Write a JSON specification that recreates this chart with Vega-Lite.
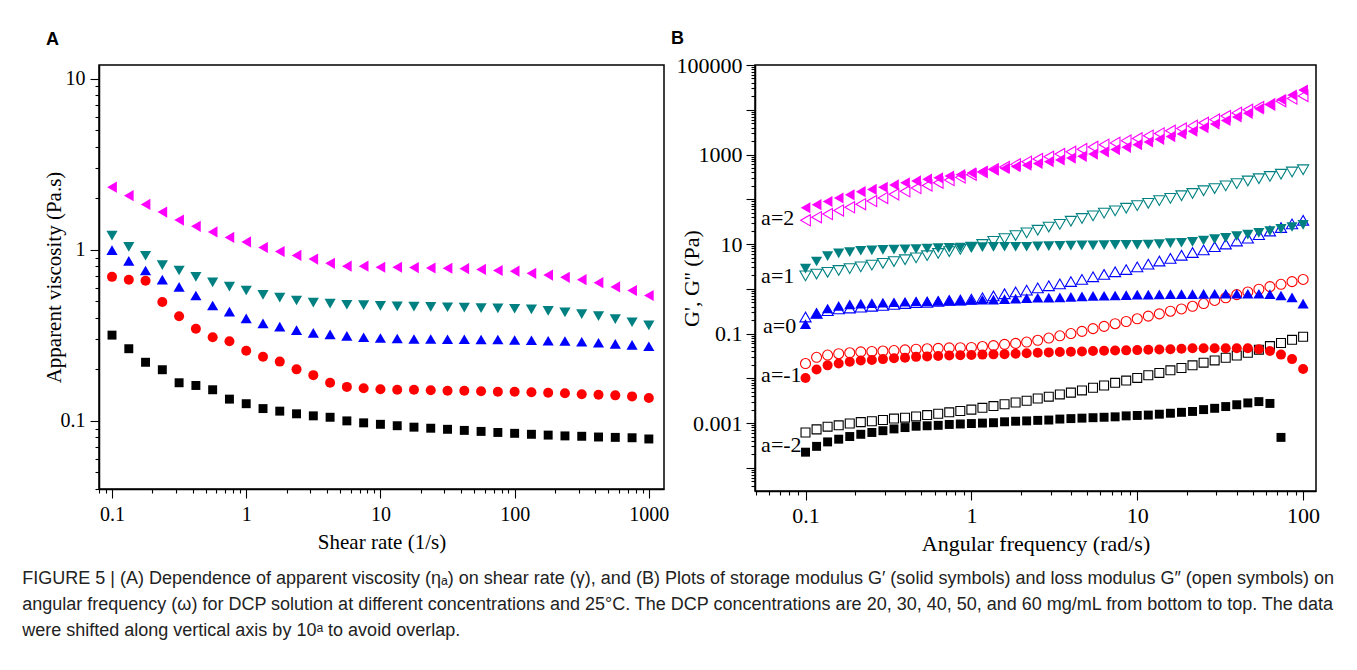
{
"$schema": "https://vega.github.io/schema/vega-lite/v6.json",
"background": "white",
"padding": {"left": 22, "top": 29, "right": 5, "bottom": 5},
"bounds": "flush",
"spacing": 91,
"title": {
  "text": ["FIGURE 5 | (A) Dependence of apparent viscosity (ηₐ) on shear rate (γ), and (B) Plots of storage modulus G′ (solid symbols) and loss modulus G″ (open symbols) on", "angular frequency (ω) for DCP solution at different concentrations and 25°C. The DCP concentrations are 20, 30, 40, 50, and 60 mg/mL from bottom to top. The data", "were shifted along vertical axis by 10ᵃ to avoid overlap."],
  "orient": "bottom", "anchor": "start", "frame": "bounds", "dx": -20, "offset": 15,
  "font": "Liberation Sans", "fontSize": 18, "fontWeight": "normal", "color": "#222", "lineHeight": 26, "baseline": "top"
},
"config": {
  "view": {"stroke": "#000", "strokeWidth": 1.5},
  "axis": {"domainColor": "#000", "domainWidth": 1.5, "tickColor": "#000", "tickWidth": 1.1, "labelColor": "#000", "titleColor": "#000", "labelFont": "Liberation Serif", "titleFont": "Liberation Serif", "titleFontWeight": "normal", "grid": false, "labelOverlap": false, "labelFlush": false, "labelBound": false}
},
"datasets": {
"A": [
{"x":0.1,"y":2.32,"c":"60"},{"x":0.1334,"y":2.07,"c":"60"},{"x":0.1778,"y":1.84,"c":"60"},{"x":0.2371,"y":1.66,"c":"60"},{"x":0.3162,"y":1.49,"c":"60"},{"x":0.4217,"y":1.37,"c":"60"},{"x":0.5623,"y":1.27,"c":"60"},{"x":0.7499,"y":1.18,"c":"60"},{"x":1,"y":1.11,"c":"60"},{"x":1.334,"y":1.03,"c":"60"},{"x":1.778,"y":0.976,"c":"60"},{"x":2.371,"y":0.926,"c":"60"},{"x":3.162,"y":0.882,"c":"60"},{"x":4.217,"y":0.833,"c":"60"},{"x":5.623,"y":0.801,"c":"60"},{"x":7.499,"y":0.801,"c":"60"},{"x":10,"y":0.79,"c":"60"},{"x":13.34,"y":0.79,"c":"60"},{"x":17.78,"y":0.786,"c":"60"},{"x":23.71,"y":0.782,"c":"60"},{"x":31.62,"y":0.779,"c":"60"},{"x":42.17,"y":0.775,"c":"60"},{"x":56.23,"y":0.767,"c":"60"},{"x":74.99,"y":0.756,"c":"60"},{"x":100,"y":0.749,"c":"60"},{"x":133.4,"y":0.728,"c":"60"},{"x":177.8,"y":0.711,"c":"60"},{"x":237.1,"y":0.69,"c":"60"},{"x":316.2,"y":0.668,"c":"60"},{"x":421.7,"y":0.642,"c":"60"},{"x":562.3,"y":0.606,"c":"60"},{"x":749.9,"y":0.578,"c":"60"},{"x":1000,"y":0.54,"c":"60"},
{"x":0.1,"y":1.21,"c":"50"},{"x":0.1334,"y":1.04,"c":"50"},{"x":0.1778,"y":0.922,"c":"50"},{"x":0.2371,"y":0.813,"c":"50"},{"x":0.3162,"y":0.756,"c":"50"},{"x":0.4217,"y":0.694,"c":"50"},{"x":0.5623,"y":0.645,"c":"50"},{"x":0.7499,"y":0.609,"c":"50"},{"x":1,"y":0.578,"c":"50"},{"x":1.334,"y":0.545,"c":"50"},{"x":1.778,"y":0.525,"c":"50"},{"x":2.371,"y":0.505,"c":"50"},{"x":3.162,"y":0.491,"c":"50"},{"x":4.217,"y":0.484,"c":"50"},{"x":5.623,"y":0.477,"c":"50"},{"x":7.499,"y":0.474,"c":"50"},{"x":10,"y":0.47,"c":"50"},{"x":13.34,"y":0.467,"c":"50"},{"x":17.78,"y":0.465,"c":"50"},{"x":23.71,"y":0.463,"c":"50"},{"x":31.62,"y":0.461,"c":"50"},{"x":42.17,"y":0.459,"c":"50"},{"x":56.23,"y":0.456,"c":"50"},{"x":74.99,"y":0.454,"c":"50"},{"x":100,"y":0.452,"c":"50"},{"x":133.4,"y":0.448,"c":"50"},{"x":177.8,"y":0.439,"c":"50"},{"x":237.1,"y":0.431,"c":"50"},{"x":316.2,"y":0.42,"c":"50"},{"x":421.7,"y":0.409,"c":"50"},{"x":562.3,"y":0.393,"c":"50"},{"x":749.9,"y":0.377,"c":"50"},{"x":1000,"y":0.361,"c":"50"},
{"x":0.1,"y":0.995,"c":"40"},{"x":0.1334,"y":0.861,"c":"40"},{"x":0.1778,"y":0.756,"c":"40"},{"x":0.2371,"y":0.668,"c":"40"},{"x":0.3162,"y":0.606,"c":"40"},{"x":0.4217,"y":0.54,"c":"40"},{"x":0.5623,"y":0.472,"c":"40"},{"x":0.7499,"y":0.435,"c":"40"},{"x":1,"y":0.397,"c":"40"},{"x":1.334,"y":0.371,"c":"40"},{"x":1.778,"y":0.355,"c":"40"},{"x":2.371,"y":0.339,"c":"40"},{"x":3.162,"y":0.327,"c":"40"},{"x":4.217,"y":0.32,"c":"40"},{"x":5.623,"y":0.314,"c":"40"},{"x":7.499,"y":0.308,"c":"40"},{"x":10,"y":0.305,"c":"40"},{"x":13.34,"y":0.303,"c":"40"},{"x":17.78,"y":0.301,"c":"40"},{"x":23.71,"y":0.301,"c":"40"},{"x":31.62,"y":0.3,"c":"40"},{"x":42.17,"y":0.3,"c":"40"},{"x":56.23,"y":0.299,"c":"40"},{"x":74.99,"y":0.299,"c":"40"},{"x":100,"y":0.297,"c":"40"},{"x":133.4,"y":0.296,"c":"40"},{"x":177.8,"y":0.294,"c":"40"},{"x":237.1,"y":0.293,"c":"40"},{"x":316.2,"y":0.29,"c":"40"},{"x":421.7,"y":0.286,"c":"40"},{"x":562.3,"y":0.282,"c":"40"},{"x":749.9,"y":0.278,"c":"40"},{"x":1000,"y":0.273,"c":"40"},
{"x":0.1,"y":0.694,"c":"30"},{"x":0.1334,"y":0.668,"c":"30"},{"x":0.1778,"y":0.658,"c":"30"},{"x":0.2371,"y":0.495,"c":"30"},{"x":0.3162,"y":0.409,"c":"30"},{"x":0.4217,"y":0.345,"c":"30"},{"x":0.5623,"y":0.308,"c":"30"},{"x":0.7499,"y":0.292,"c":"30"},{"x":1,"y":0.257,"c":"30"},{"x":1.334,"y":0.237,"c":"30"},{"x":1.778,"y":0.222,"c":"30"},{"x":2.371,"y":0.2,"c":"30"},{"x":3.162,"y":0.185,"c":"30"},{"x":4.217,"y":0.167,"c":"30"},{"x":5.623,"y":0.158,"c":"30"},{"x":7.499,"y":0.155,"c":"30"},{"x":10,"y":0.153,"c":"30"},{"x":13.34,"y":0.152,"c":"30"},{"x":17.78,"y":0.152,"c":"30"},{"x":23.71,"y":0.151,"c":"30"},{"x":31.62,"y":0.15,"c":"30"},{"x":42.17,"y":0.15,"c":"30"},{"x":56.23,"y":0.149,"c":"30"},{"x":74.99,"y":0.148,"c":"30"},{"x":100,"y":0.148,"c":"30"},{"x":133.4,"y":0.147,"c":"30"},{"x":177.8,"y":0.146,"c":"30"},{"x":237.1,"y":0.145,"c":"30"},{"x":316.2,"y":0.143,"c":"30"},{"x":421.7,"y":0.142,"c":"30"},{"x":562.3,"y":0.141,"c":"30"},{"x":749.9,"y":0.139,"c":"30"},{"x":1000,"y":0.136,"c":"30"},
{"x":0.1,"y":0.317,"c":"20"},{"x":0.1334,"y":0.264,"c":"20"},{"x":0.1778,"y":0.22,"c":"20"},{"x":0.2371,"y":0.199,"c":"20"},{"x":0.3162,"y":0.167,"c":"20"},{"x":0.4217,"y":0.161,"c":"20"},{"x":0.5623,"y":0.152,"c":"20"},{"x":0.7499,"y":0.134,"c":"20"},{"x":1,"y":0.126,"c":"20"},{"x":1.334,"y":0.118,"c":"20"},{"x":1.778,"y":0.114,"c":"20"},{"x":2.371,"y":0.11,"c":"20"},{"x":3.162,"y":0.107,"c":"20"},{"x":4.217,"y":0.105,"c":"20"},{"x":5.623,"y":0.1,"c":"20"},{"x":7.499,"y":0.0974,"c":"20"},{"x":10,"y":0.0955,"c":"20"},{"x":13.34,"y":0.0937,"c":"20"},{"x":17.78,"y":0.0919,"c":"20"},{"x":23.71,"y":0.0906,"c":"20"},{"x":31.62,"y":0.0893,"c":"20"},{"x":42.17,"y":0.088,"c":"20"},{"x":56.23,"y":0.0868,"c":"20"},{"x":74.99,"y":0.0856,"c":"20"},{"x":100,"y":0.0846,"c":"20"},{"x":133.4,"y":0.0835,"c":"20"},{"x":177.8,"y":0.0826,"c":"20"},{"x":237.1,"y":0.0817,"c":"20"},{"x":316.2,"y":0.0813,"c":"20"},{"x":421.7,"y":0.0805,"c":"20"},{"x":562.3,"y":0.0801,"c":"20"},{"x":749.9,"y":0.0797,"c":"20"},{"x":1000,"y":0.0784,"c":"20"}
],
"B": [
{"w":0.1,"v":64.6,"c":"60","g":"s"},{"w":0.1166,"v":75.9,"c":"60","g":"s"},{"w":0.1359,"v":89.1,"c":"60","g":"s"},{"w":0.1585,"v":107,"c":"60","g":"s"},{"w":0.1848,"v":126,"c":"60","g":"s"},{"w":0.2154,"v":148,"c":"60","g":"s"},{"w":0.2512,"v":166,"c":"60","g":"s"},{"w":0.2929,"v":186,"c":"60","g":"s"},{"w":0.3415,"v":209,"c":"60","g":"s"},{"w":0.3981,"v":234,"c":"60","g":"s"},{"w":0.4642,"v":257,"c":"60","g":"s"},{"w":0.5412,"v":282,"c":"60","g":"s"},{"w":0.631,"v":302,"c":"60","g":"s"},{"w":0.7356,"v":331,"c":"60","g":"s"},{"w":0.8577,"v":355,"c":"60","g":"s"},{"w":1,"v":389,"c":"60","g":"s"},{"w":1.166,"v":417,"c":"60","g":"s"},{"w":1.359,"v":457,"c":"60","g":"s"},{"w":1.585,"v":490,"c":"60","g":"s"},{"w":1.848,"v":537,"c":"60","g":"s"},{"w":2.154,"v":575,"c":"60","g":"s"},{"w":2.512,"v":631,"c":"60","g":"s"},{"w":2.929,"v":692,"c":"60","g":"s"},{"w":3.415,"v":759,"c":"60","g":"s"},{"w":3.981,"v":832,"c":"60","g":"s"},{"w":4.642,"v":912,"c":"60","g":"s"},{"w":5.412,"v":1023,"c":"60","g":"s"},{"w":6.31,"v":1148,"c":"60","g":"s"},{"w":7.356,"v":1288,"c":"60","g":"s"},{"w":8.577,"v":1445,"c":"60","g":"s"},{"w":10,"v":1660,"c":"60","g":"s"},{"w":11.66,"v":1905,"c":"60","g":"s"},{"w":13.59,"v":2188,"c":"60","g":"s"},{"w":15.85,"v":2512,"c":"60","g":"s"},{"w":18.48,"v":2884,"c":"60","g":"s"},{"w":21.54,"v":3311,"c":"60","g":"s"},{"w":25.12,"v":3981,"c":"60","g":"s"},{"w":29.29,"v":4786,"c":"60","g":"s"},{"w":34.15,"v":5754,"c":"60","g":"s"},{"w":39.81,"v":6918,"c":"60","g":"s"},{"w":46.42,"v":8318,"c":"60","g":"s"},{"w":54.12,"v":10470,"c":"60","g":"s"},{"w":63.1,"v":13180,"c":"60","g":"s"},{"w":73.56,"v":16980,"c":"60","g":"s"},{"w":85.77,"v":21380,"c":"60","g":"s"},{"w":100,"v":27540,"c":"60","g":"s"},
{"w":0.1,"v":33.9,"c":"60","g":"o"},{"w":0.1166,"v":39.8,"c":"60","g":"o"},{"w":0.1359,"v":46.8,"c":"60","g":"o"},{"w":0.1585,"v":56.2,"c":"60","g":"o"},{"w":0.1848,"v":66.1,"c":"60","g":"o"},{"w":0.2154,"v":77.6,"c":"60","g":"o"},{"w":0.2512,"v":91.2,"c":"60","g":"o"},{"w":0.2929,"v":107,"c":"60","g":"o"},{"w":0.3415,"v":129,"c":"60","g":"o"},{"w":0.3981,"v":151,"c":"60","g":"o"},{"w":0.4642,"v":178,"c":"60","g":"o"},{"w":0.5412,"v":204,"c":"60","g":"o"},{"w":0.631,"v":234,"c":"60","g":"o"},{"w":0.7356,"v":269,"c":"60","g":"o"},{"w":0.8577,"v":309,"c":"60","g":"o"},{"w":1,"v":355,"c":"60","g":"o"},{"w":1.166,"v":407,"c":"60","g":"o"},{"w":1.359,"v":468,"c":"60","g":"o"},{"w":1.585,"v":525,"c":"60","g":"o"},{"w":1.848,"v":603,"c":"60","g":"o"},{"w":2.154,"v":692,"c":"60","g":"o"},{"w":2.512,"v":794,"c":"60","g":"o"},{"w":2.929,"v":891,"c":"60","g":"o"},{"w":3.415,"v":1023,"c":"60","g":"o"},{"w":3.981,"v":1148,"c":"60","g":"o"},{"w":4.642,"v":1318,"c":"60","g":"o"},{"w":5.412,"v":1479,"c":"60","g":"o"},{"w":6.31,"v":1660,"c":"60","g":"o"},{"w":7.356,"v":1820,"c":"60","g":"o"},{"w":8.577,"v":2042,"c":"60","g":"o"},{"w":10,"v":2291,"c":"60","g":"o"},{"w":11.66,"v":2630,"c":"60","g":"o"},{"w":13.59,"v":2951,"c":"60","g":"o"},{"w":15.85,"v":3388,"c":"60","g":"o"},{"w":18.48,"v":3802,"c":"60","g":"o"},{"w":21.54,"v":4365,"c":"60","g":"o"},{"w":25.12,"v":5129,"c":"60","g":"o"},{"w":29.29,"v":6026,"c":"60","g":"o"},{"w":34.15,"v":7244,"c":"60","g":"o"},{"w":39.81,"v":8511,"c":"60","g":"o"},{"w":46.42,"v":10000,"c":"60","g":"o"},{"w":54.12,"v":11480,"c":"60","g":"o"},{"w":63.1,"v":13180,"c":"60","g":"o"},{"w":73.56,"v":15490,"c":"60","g":"o"},{"w":85.77,"v":17780,"c":"60","g":"o"},{"w":100,"v":20420,"c":"60","g":"o"},
{"w":0.1,"v":2.82,"c":"50","g":"s"},{"w":0.1166,"v":4.07,"c":"50","g":"s"},{"w":0.1359,"v":5.37,"c":"50","g":"s"},{"w":0.1585,"v":6.17,"c":"50","g":"s"},{"w":0.1848,"v":6.61,"c":"50","g":"s"},{"w":0.2154,"v":7.08,"c":"50","g":"s"},{"w":0.2512,"v":7.24,"c":"50","g":"s"},{"w":0.2929,"v":7.41,"c":"50","g":"s"},{"w":0.3415,"v":7.5,"c":"50","g":"s"},{"w":0.3981,"v":7.59,"c":"50","g":"s"},{"w":0.4642,"v":7.76,"c":"50","g":"s"},{"w":0.5412,"v":7.94,"c":"50","g":"s"},{"w":0.631,"v":8.13,"c":"50","g":"s"},{"w":0.7356,"v":8.22,"c":"50","g":"s"},{"w":0.8577,"v":8.32,"c":"50","g":"s"},{"w":1,"v":8.51,"c":"50","g":"s"},{"w":1.166,"v":8.51,"c":"50","g":"s"},{"w":1.359,"v":8.61,"c":"50","g":"s"},{"w":1.585,"v":8.71,"c":"50","g":"s"},{"w":1.848,"v":8.71,"c":"50","g":"s"},{"w":2.154,"v":8.71,"c":"50","g":"s"},{"w":2.512,"v":8.91,"c":"50","g":"s"},{"w":2.929,"v":9.02,"c":"50","g":"s"},{"w":3.415,"v":9.12,"c":"50","g":"s"},{"w":3.981,"v":9.23,"c":"50","g":"s"},{"w":4.642,"v":9.33,"c":"50","g":"s"},{"w":5.412,"v":9.33,"c":"50","g":"s"},{"w":6.31,"v":9.44,"c":"50","g":"s"},{"w":7.356,"v":9.55,"c":"50","g":"s"},{"w":8.577,"v":9.55,"c":"50","g":"s"},{"w":10,"v":9.55,"c":"50","g":"s"},{"w":11.66,"v":9.77,"c":"50","g":"s"},{"w":13.59,"v":10,"c":"50","g":"s"},{"w":15.85,"v":10.5,"c":"50","g":"s"},{"w":18.48,"v":10.7,"c":"50","g":"s"},{"w":21.54,"v":11.2,"c":"50","g":"s"},{"w":25.12,"v":12,"c":"50","g":"s"},{"w":29.29,"v":12.9,"c":"50","g":"s"},{"w":34.15,"v":13.8,"c":"50","g":"s"},{"w":39.81,"v":15.1,"c":"50","g":"s"},{"w":46.42,"v":16.2,"c":"50","g":"s"},{"w":54.12,"v":17.8,"c":"50","g":"s"},{"w":63.1,"v":19.5,"c":"50","g":"s"},{"w":73.56,"v":21.9,"c":"50","g":"s"},{"w":85.77,"v":24,"c":"50","g":"s"},{"w":100,"v":26.9,"c":"50","g":"s"},
{"w":0.1,"v":1.95,"c":"50","g":"o"},{"w":0.1166,"v":2.14,"c":"50","g":"o"},{"w":0.1359,"v":2.34,"c":"50","g":"o"},{"w":0.1585,"v":2.57,"c":"50","g":"o"},{"w":0.1848,"v":2.82,"c":"50","g":"o"},{"w":0.2154,"v":3.09,"c":"50","g":"o"},{"w":0.2512,"v":3.39,"c":"50","g":"o"},{"w":0.2929,"v":3.72,"c":"50","g":"o"},{"w":0.3415,"v":4.07,"c":"50","g":"o"},{"w":0.3981,"v":4.47,"c":"50","g":"o"},{"w":0.4642,"v":4.9,"c":"50","g":"o"},{"w":0.5412,"v":5.5,"c":"50","g":"o"},{"w":0.631,"v":6.17,"c":"50","g":"o"},{"w":0.7356,"v":6.76,"c":"50","g":"o"},{"w":0.8577,"v":7.59,"c":"50","g":"o"},{"w":1,"v":8.51,"c":"50","g":"o"},{"w":1.166,"v":9.77,"c":"50","g":"o"},{"w":1.359,"v":11.5,"c":"50","g":"o"},{"w":1.585,"v":13.2,"c":"50","g":"o"},{"w":1.848,"v":15.5,"c":"50","g":"o"},{"w":2.154,"v":17.8,"c":"50","g":"o"},{"w":2.512,"v":20.4,"c":"50","g":"o"},{"w":2.929,"v":24,"c":"50","g":"o"},{"w":3.415,"v":27.5,"c":"50","g":"o"},{"w":3.981,"v":32.4,"c":"50","g":"o"},{"w":4.642,"v":37.2,"c":"50","g":"o"},{"w":5.412,"v":42.7,"c":"50","g":"o"},{"w":6.31,"v":49,"c":"50","g":"o"},{"w":7.356,"v":55,"c":"50","g":"o"},{"w":8.577,"v":63.1,"c":"50","g":"o"},{"w":10,"v":72.4,"c":"50","g":"o"},{"w":11.66,"v":81.3,"c":"50","g":"o"},{"w":13.59,"v":93.3,"c":"50","g":"o"},{"w":15.85,"v":105,"c":"50","g":"o"},{"w":18.48,"v":120,"c":"50","g":"o"},{"w":21.54,"v":135,"c":"50","g":"o"},{"w":25.12,"v":155,"c":"50","g":"o"},{"w":29.29,"v":174,"c":"50","g":"o"},{"w":34.15,"v":200,"c":"50","g":"o"},{"w":39.81,"v":224,"c":"50","g":"o"},{"w":46.42,"v":257,"c":"50","g":"o"},{"w":54.12,"v":288,"c":"50","g":"o"},{"w":63.1,"v":324,"c":"50","g":"o"},{"w":73.56,"v":363,"c":"50","g":"o"},{"w":85.77,"v":407,"c":"50","g":"o"},{"w":100,"v":457,"c":"50","g":"o"},
{"w":0.1,"v":0.162,"c":"40","g":"s"},{"w":0.1166,"v":0.282,"c":"40","g":"s"},{"w":0.1359,"v":0.363,"c":"40","g":"s"},{"w":0.1585,"v":0.417,"c":"40","g":"s"},{"w":0.1848,"v":0.447,"c":"40","g":"s"},{"w":0.2154,"v":0.468,"c":"40","g":"s"},{"w":0.2512,"v":0.479,"c":"40","g":"s"},{"w":0.2929,"v":0.49,"c":"40","g":"s"},{"w":0.3415,"v":0.501,"c":"40","g":"s"},{"w":0.3981,"v":0.513,"c":"40","g":"s"},{"w":0.4642,"v":0.525,"c":"40","g":"s"},{"w":0.5412,"v":0.531,"c":"40","g":"s"},{"w":0.631,"v":0.537,"c":"40","g":"s"},{"w":0.7356,"v":0.543,"c":"40","g":"s"},{"w":0.8577,"v":0.55,"c":"40","g":"s"},{"w":1,"v":0.562,"c":"40","g":"s"},{"w":1.166,"v":0.569,"c":"40","g":"s"},{"w":1.359,"v":0.575,"c":"40","g":"s"},{"w":1.585,"v":0.589,"c":"40","g":"s"},{"w":1.848,"v":0.603,"c":"40","g":"s"},{"w":2.154,"v":0.617,"c":"40","g":"s"},{"w":2.512,"v":0.631,"c":"40","g":"s"},{"w":2.929,"v":0.638,"c":"40","g":"s"},{"w":3.415,"v":0.646,"c":"40","g":"s"},{"w":3.981,"v":0.661,"c":"40","g":"s"},{"w":4.642,"v":0.676,"c":"40","g":"s"},{"w":5.412,"v":0.692,"c":"40","g":"s"},{"w":6.31,"v":0.7,"c":"40","g":"s"},{"w":7.356,"v":0.708,"c":"40","g":"s"},{"w":8.577,"v":0.724,"c":"40","g":"s"},{"w":10,"v":0.741,"c":"40","g":"s"},{"w":11.66,"v":0.741,"c":"40","g":"s"},{"w":13.59,"v":0.75,"c":"40","g":"s"},{"w":15.85,"v":0.759,"c":"40","g":"s"},{"w":18.48,"v":0.759,"c":"40","g":"s"},{"w":21.54,"v":0.759,"c":"40","g":"s"},{"w":25.12,"v":0.767,"c":"40","g":"s"},{"w":29.29,"v":0.776,"c":"40","g":"s"},{"w":34.15,"v":0.776,"c":"40","g":"s"},{"w":39.81,"v":0.776,"c":"40","g":"s"},{"w":46.42,"v":0.776,"c":"40","g":"s"},{"w":54.12,"v":0.776,"c":"40","g":"s"},{"w":63.1,"v":0.759,"c":"40","g":"s"},{"w":73.56,"v":0.708,"c":"40","g":"s"},{"w":85.77,"v":0.646,"c":"40","g":"s"},{"w":100,"v":0.468,"c":"40","g":"s"},
{"w":0.1,"v":0.234,"c":"40","g":"o"},{"w":0.1166,"v":0.282,"c":"40","g":"o"},{"w":0.1359,"v":0.324,"c":"40","g":"o"},{"w":0.1585,"v":0.355,"c":"40","g":"o"},{"w":0.1848,"v":0.372,"c":"40","g":"o"},{"w":0.2154,"v":0.389,"c":"40","g":"o"},{"w":0.2512,"v":0.407,"c":"40","g":"o"},{"w":0.2929,"v":0.427,"c":"40","g":"o"},{"w":0.3415,"v":0.447,"c":"40","g":"o"},{"w":0.3981,"v":0.468,"c":"40","g":"o"},{"w":0.4642,"v":0.49,"c":"40","g":"o"},{"w":0.5412,"v":0.501,"c":"40","g":"o"},{"w":0.631,"v":0.525,"c":"40","g":"o"},{"w":0.7356,"v":0.55,"c":"40","g":"o"},{"w":0.8577,"v":0.562,"c":"40","g":"o"},{"w":1,"v":0.589,"c":"40","g":"o"},{"w":1.166,"v":0.631,"c":"40","g":"o"},{"w":1.359,"v":0.692,"c":"40","g":"o"},{"w":1.585,"v":0.776,"c":"40","g":"o"},{"w":1.848,"v":0.851,"c":"40","g":"o"},{"w":2.154,"v":0.933,"c":"40","g":"o"},{"w":2.512,"v":1.05,"c":"40","g":"o"},{"w":2.929,"v":1.17,"c":"40","g":"o"},{"w":3.415,"v":1.29,"c":"40","g":"o"},{"w":3.981,"v":1.45,"c":"40","g":"o"},{"w":4.642,"v":1.62,"c":"40","g":"o"},{"w":5.412,"v":1.86,"c":"40","g":"o"},{"w":6.31,"v":2.09,"c":"40","g":"o"},{"w":7.356,"v":2.4,"c":"40","g":"o"},{"w":8.577,"v":2.69,"c":"40","g":"o"},{"w":10,"v":3.09,"c":"40","g":"o"},{"w":11.66,"v":3.55,"c":"40","g":"o"},{"w":13.59,"v":4.17,"c":"40","g":"o"},{"w":15.85,"v":4.79,"c":"40","g":"o"},{"w":18.48,"v":5.62,"c":"40","g":"o"},{"w":21.54,"v":6.46,"c":"40","g":"o"},{"w":25.12,"v":7.41,"c":"40","g":"o"},{"w":29.29,"v":8.71,"c":"40","g":"o"},{"w":34.15,"v":10,"c":"40","g":"o"},{"w":39.81,"v":11.7,"c":"40","g":"o"},{"w":46.42,"v":13.5,"c":"40","g":"o"},{"w":54.12,"v":16.2,"c":"40","g":"o"},{"w":63.1,"v":19.5,"c":"40","g":"o"},{"w":73.56,"v":23.4,"c":"40","g":"o"},{"w":85.77,"v":28.2,"c":"40","g":"o"},{"w":100,"v":33.9,"c":"40","g":"o"},
{"w":0.1,"v":0.0102,"c":"30","g":"s"},{"w":0.1166,"v":0.0158,"c":"30","g":"s"},{"w":0.1359,"v":0.0195,"c":"30","g":"s"},{"w":0.1585,"v":0.0214,"c":"30","g":"s"},{"w":0.1848,"v":0.0234,"c":"30","g":"s"},{"w":0.2154,"v":0.0251,"c":"30","g":"s"},{"w":0.2512,"v":0.0257,"c":"30","g":"s"},{"w":0.2929,"v":0.0269,"c":"30","g":"s"},{"w":0.3415,"v":0.0282,"c":"30","g":"s"},{"w":0.3981,"v":0.0288,"c":"30","g":"s"},{"w":0.4642,"v":0.0302,"c":"30","g":"s"},{"w":0.5412,"v":0.0309,"c":"30","g":"s"},{"w":0.631,"v":0.0316,"c":"30","g":"s"},{"w":0.7356,"v":0.0324,"c":"30","g":"s"},{"w":0.8577,"v":0.0327,"c":"30","g":"s"},{"w":1,"v":0.0331,"c":"30","g":"s"},{"w":1.166,"v":0.0339,"c":"30","g":"s"},{"w":1.359,"v":0.0343,"c":"30","g":"s"},{"w":1.585,"v":0.0347,"c":"30","g":"s"},{"w":1.848,"v":0.0355,"c":"30","g":"s"},{"w":2.154,"v":0.0363,"c":"30","g":"s"},{"w":2.512,"v":0.0372,"c":"30","g":"s"},{"w":2.929,"v":0.038,"c":"30","g":"s"},{"w":3.415,"v":0.0389,"c":"30","g":"s"},{"w":3.981,"v":0.0394,"c":"30","g":"s"},{"w":4.642,"v":0.0398,"c":"30","g":"s"},{"w":5.412,"v":0.0407,"c":"30","g":"s"},{"w":6.31,"v":0.0412,"c":"30","g":"s"},{"w":7.356,"v":0.0417,"c":"30","g":"s"},{"w":8.577,"v":0.0422,"c":"30","g":"s"},{"w":10,"v":0.0427,"c":"30","g":"s"},{"w":11.66,"v":0.0437,"c":"30","g":"s"},{"w":13.59,"v":0.0442,"c":"30","g":"s"},{"w":15.85,"v":0.0447,"c":"30","g":"s"},{"w":18.48,"v":0.0457,"c":"30","g":"s"},{"w":21.54,"v":0.0468,"c":"30","g":"s"},{"w":25.12,"v":0.0468,"c":"30","g":"s"},{"w":29.29,"v":0.0468,"c":"30","g":"s"},{"w":34.15,"v":0.0468,"c":"30","g":"s"},{"w":39.81,"v":0.0468,"c":"30","g":"s"},{"w":46.42,"v":0.0468,"c":"30","g":"s"},{"w":54.12,"v":0.0447,"c":"30","g":"s"},{"w":63.1,"v":0.0407,"c":"30","g":"s"},{"w":73.56,"v":0.0339,"c":"30","g":"s"},{"w":85.77,"v":0.0269,"c":"30","g":"s"},{"w":100,"v":0.0162,"c":"30","g":"s"},
{"w":0.1,"v":0.0214,"c":"30","g":"o"},{"w":0.1166,"v":0.0295,"c":"30","g":"o"},{"w":0.1359,"v":0.0331,"c":"30","g":"o"},{"w":0.1585,"v":0.0355,"c":"30","g":"o"},{"w":0.1848,"v":0.0372,"c":"30","g":"o"},{"w":0.2154,"v":0.0389,"c":"30","g":"o"},{"w":0.2512,"v":0.0398,"c":"30","g":"o"},{"w":0.2929,"v":0.0407,"c":"30","g":"o"},{"w":0.3415,"v":0.0417,"c":"30","g":"o"},{"w":0.3981,"v":0.0432,"c":"30","g":"o"},{"w":0.4642,"v":0.0447,"c":"30","g":"o"},{"w":0.5412,"v":0.0457,"c":"30","g":"o"},{"w":0.631,"v":0.0468,"c":"30","g":"o"},{"w":0.7356,"v":0.0479,"c":"30","g":"o"},{"w":0.8577,"v":0.0484,"c":"30","g":"o"},{"w":1,"v":0.049,"c":"30","g":"o"},{"w":1.166,"v":0.0513,"c":"30","g":"o"},{"w":1.359,"v":0.0537,"c":"30","g":"o"},{"w":1.585,"v":0.0575,"c":"30","g":"o"},{"w":1.848,"v":0.0603,"c":"30","g":"o"},{"w":2.154,"v":0.0646,"c":"30","g":"o"},{"w":2.512,"v":0.0708,"c":"30","g":"o"},{"w":2.929,"v":0.0794,"c":"30","g":"o"},{"w":3.415,"v":0.0891,"c":"30","g":"o"},{"w":3.981,"v":0.1,"c":"30","g":"o"},{"w":4.642,"v":0.112,"c":"30","g":"o"},{"w":5.412,"v":0.129,"c":"30","g":"o"},{"w":6.31,"v":0.145,"c":"30","g":"o"},{"w":7.356,"v":0.166,"c":"30","g":"o"},{"w":8.577,"v":0.186,"c":"30","g":"o"},{"w":10,"v":0.214,"c":"30","g":"o"},{"w":11.66,"v":0.245,"c":"30","g":"o"},{"w":13.59,"v":0.275,"c":"30","g":"o"},{"w":15.85,"v":0.316,"c":"30","g":"o"},{"w":18.48,"v":0.355,"c":"30","g":"o"},{"w":21.54,"v":0.407,"c":"30","g":"o"},{"w":25.12,"v":0.468,"c":"30","g":"o"},{"w":29.29,"v":0.55,"c":"30","g":"o"},{"w":34.15,"v":0.631,"c":"30","g":"o"},{"w":39.81,"v":0.741,"c":"30","g":"o"},{"w":46.42,"v":0.851,"c":"30","g":"o"},{"w":54.12,"v":0.977,"c":"30","g":"o"},{"w":63.1,"v":1.12,"c":"30","g":"o"},{"w":73.56,"v":1.26,"c":"30","g":"o"},{"w":85.77,"v":1.45,"c":"30","g":"o"},{"w":100,"v":1.62,"c":"30","g":"o"},
{"w":0.1,"v":0.000224,"c":"20","g":"s"},{"w":0.1166,"v":0.000302,"c":"20","g":"s"},{"w":0.1359,"v":0.00038,"c":"20","g":"s"},{"w":0.1585,"v":0.000437,"c":"20","g":"s"},{"w":0.1848,"v":0.000501,"c":"20","g":"s"},{"w":0.2154,"v":0.000562,"c":"20","g":"s"},{"w":0.2512,"v":0.000617,"c":"20","g":"s"},{"w":0.2929,"v":0.000676,"c":"20","g":"s"},{"w":0.3415,"v":0.000741,"c":"20","g":"s"},{"w":0.3981,"v":0.000794,"c":"20","g":"s"},{"w":0.4642,"v":0.000851,"c":"20","g":"s"},{"w":0.5412,"v":0.000871,"c":"20","g":"s"},{"w":0.631,"v":0.000891,"c":"20","g":"s"},{"w":0.7356,"v":0.000933,"c":"20","g":"s"},{"w":0.8577,"v":0.000955,"c":"20","g":"s"},{"w":1,"v":0.000977,"c":"20","g":"s"},{"w":1.166,"v":0.001,"c":"20","g":"s"},{"w":1.359,"v":0.00102,"c":"20","g":"s"},{"w":1.585,"v":0.00107,"c":"20","g":"s"},{"w":1.848,"v":0.0011,"c":"20","g":"s"},{"w":2.154,"v":0.00112,"c":"20","g":"s"},{"w":2.512,"v":0.00115,"c":"20","g":"s"},{"w":2.929,"v":0.00117,"c":"20","g":"s"},{"w":3.415,"v":0.00123,"c":"20","g":"s"},{"w":3.981,"v":0.00126,"c":"20","g":"s"},{"w":4.642,"v":0.00129,"c":"20","g":"s"},{"w":5.412,"v":0.00132,"c":"20","g":"s"},{"w":6.31,"v":0.00135,"c":"20","g":"s"},{"w":7.356,"v":0.00138,"c":"20","g":"s"},{"w":8.577,"v":0.00145,"c":"20","g":"s"},{"w":10,"v":0.00148,"c":"20","g":"s"},{"w":11.66,"v":0.00151,"c":"20","g":"s"},{"w":13.59,"v":0.00158,"c":"20","g":"s"},{"w":15.85,"v":0.00166,"c":"20","g":"s"},{"w":18.48,"v":0.00174,"c":"20","g":"s"},{"w":21.54,"v":0.00182,"c":"20","g":"s"},{"w":25.12,"v":0.002,"c":"20","g":"s"},{"w":29.29,"v":0.00214,"c":"20","g":"s"},{"w":34.15,"v":0.00234,"c":"20","g":"s"},{"w":39.81,"v":0.00257,"c":"20","g":"s"},{"w":46.42,"v":0.00282,"c":"20","g":"s"},{"w":54.12,"v":0.00302,"c":"20","g":"s"},{"w":63.1,"v":0.00275,"c":"20","g":"s"},{"w":73.56,"v":0.000479,"c":"20","g":"s"},
{"w":0.1,"v":0.000617,"c":"20","g":"o"},{"w":0.1166,"v":0.000724,"c":"20","g":"o"},{"w":0.1359,"v":0.000832,"c":"20","g":"o"},{"w":0.1585,"v":0.000891,"c":"20","g":"o"},{"w":0.1848,"v":0.000977,"c":"20","g":"o"},{"w":0.2154,"v":0.00105,"c":"20","g":"o"},{"w":0.2512,"v":0.0011,"c":"20","g":"o"},{"w":0.2929,"v":0.00117,"c":"20","g":"o"},{"w":0.3415,"v":0.00126,"c":"20","g":"o"},{"w":0.3981,"v":0.00132,"c":"20","g":"o"},{"w":0.4642,"v":0.00141,"c":"20","g":"o"},{"w":0.5412,"v":0.00151,"c":"20","g":"o"},{"w":0.631,"v":0.00162,"c":"20","g":"o"},{"w":0.7356,"v":0.00174,"c":"20","g":"o"},{"w":0.8577,"v":0.00186,"c":"20","g":"o"},{"w":1,"v":0.002,"c":"20","g":"o"},{"w":1.166,"v":0.00219,"c":"20","g":"o"},{"w":1.359,"v":0.0024,"c":"20","g":"o"},{"w":1.585,"v":0.00263,"c":"20","g":"o"},{"w":1.848,"v":0.00288,"c":"20","g":"o"},{"w":2.154,"v":0.00316,"c":"20","g":"o"},{"w":2.512,"v":0.00355,"c":"20","g":"o"},{"w":2.929,"v":0.00389,"c":"20","g":"o"},{"w":3.415,"v":0.00437,"c":"20","g":"o"},{"w":3.981,"v":0.00479,"c":"20","g":"o"},{"w":4.642,"v":0.00537,"c":"20","g":"o"},{"w":5.412,"v":0.00617,"c":"20","g":"o"},{"w":6.31,"v":0.00692,"c":"20","g":"o"},{"w":7.356,"v":0.00794,"c":"20","g":"o"},{"w":8.577,"v":0.00891,"c":"20","g":"o"},{"w":10,"v":0.0102,"c":"20","g":"o"},{"w":11.66,"v":0.0117,"c":"20","g":"o"},{"w":13.59,"v":0.0132,"c":"20","g":"o"},{"w":15.85,"v":0.0151,"c":"20","g":"o"},{"w":18.48,"v":0.017,"c":"20","g":"o"},{"w":21.54,"v":0.0195,"c":"20","g":"o"},{"w":25.12,"v":0.0224,"c":"20","g":"o"},{"w":29.29,"v":0.0251,"c":"20","g":"o"},{"w":34.15,"v":0.0288,"c":"20","g":"o"},{"w":39.81,"v":0.0324,"c":"20","g":"o"},{"w":46.42,"v":0.0372,"c":"20","g":"o"},{"w":54.12,"v":0.0437,"c":"20","g":"o"},{"w":63.1,"v":0.0525,"c":"20","g":"o"},{"w":73.56,"v":0.0617,"c":"20","g":"o"},{"w":85.77,"v":0.0724,"c":"20","g":"o"},{"w":100,"v":0.0851,"c":"20","g":"o"}
],
"lab": [
{"w":0.054,"v":39,"t":"a=2"},{"w":0.054,"v":1.95,"t":"a=1"},{"w":0.0555,"v":0.144,"t":"a=0"},{"w":0.054,"v":0.0121,"t":"a=-1"},{"w":0.054,"v":0.000317,"t":"a=-2"}
]
},
"hconcat": [
{
  "width": 565, "height": 424,
  "title": {"text": "A", "anchor": "start", "frame": "group", "dx": -53, "offset": 2, "baseline": "alphabetic", "font": "Liberation Sans", "fontSize": 18, "fontWeight": "bold", "color": "#000"},
  "data": {"name": "A"},
  "mark": {"type": "point", "filled": true, "opacity": 1},
  "encoding": {
    "x": {"field": "x", "type": "quantitative", "title": "Shear rate (1/s)",
      "scale": {"type": "log", "domain": [0.08, 1297], "nice": false},
      "axis": {"values": [0.08,0.09,0.1,0.2,0.3,0.4,0.5,0.6,0.7,0.8,0.9,1,2,3,4,5,6,7,8,9,10,20,30,40,50,60,70,80,90,100,200,300,400,500,600,700,800,900,1000],
        "labelExpr": "datum.value == 0.1 ? '0.1' : datum.value == 1 ? '1' : datum.value == 10 ? '10' : datum.value == 100 ? '100' : datum.value == 1000 ? '1000' : ''",
        "tickSize": {"condition": {"test": "abs(log(datum.value)/LN10 - round(log(datum.value)/LN10)) < 0.001", "value": 9}, "value": 4},
        "labelPadding": 6, "labelFontSize": 20, "titleFontSize": 21, "titlePadding": 7}},
    "y": {"field": "y", "type": "quantitative", "title": "Apparent viscosity (Pa.s)",
      "scale": {"type": "log", "domain": [0.04, 12], "nice": false},
      "axis": {"values": [0.04,0.05,0.06,0.07,0.08,0.09,0.1,0.2,0.3,0.4,0.5,0.6,0.7,0.8,0.9,1,2,3,4,5,6,7,8,9,10],
        "labelExpr": "datum.value == 0.1 ? '0.1' : datum.value == 1 ? '1' : datum.value == 10 ? '10' : ''",
        "tickSize": {"condition": {"test": "abs(log(datum.value)/LN10 - round(log(datum.value)/LN10)) < 0.001", "value": 9}, "value": 4},
        "labelPadding": 5, "labelFontSize": 20, "titleFontSize": 21, "titlePadding": -4}},
    "color": {"field": "c", "type": "nominal", "scale": {"domain": ["20","30","40","50","60"], "range": ["#000000","#ff0000","#0000ff","#008080","#ff00ff"]}, "legend": null},
    "shape": {"field": "c", "type": "nominal", "scale": {"domain": ["20","30","40","50","60"], "range": ["square","circle","triangle-up","triangle-down","triangle-left"]}, "legend": null},
    "size": {"field": "c", "type": "nominal", "scale": {"type": "ordinal", "domain": ["20","30","40","50","60"], "range": [80, 100, 125, 125, 125]}, "legend": null}
  }
},
{
  "width": 561, "height": 426,
  "title": {"text": "B", "anchor": "start", "frame": "group", "dx": -84, "offset": -8, "baseline": "alphabetic", "font": "Liberation Sans", "fontSize": 18, "fontWeight": "bold", "color": "#000"},
  "encoding": {
    "x": {"field": "w", "type": "quantitative", "title": "Angular frequency (rad/s)",
      "scale": {"type": "log", "domain": [0.0496, 119.6], "nice": false},
      "axis": {"values": [0.05,0.06,0.07,0.08,0.09,0.1,0.2,0.3,0.4,0.5,0.6,0.7,0.8,0.9,1,2,3,4,5,6,7,8,9,10,20,30,40,50,60,70,80,90,100],
        "labelExpr": "datum.value == 0.1 ? '0.1' : datum.value == 1 ? '1' : datum.value == 10 ? '10' : datum.value == 100 ? '100' : ''",
        "tickSize": {"condition": {"test": "abs(log(datum.value)/LN10 - round(log(datum.value)/LN10)) < 0.001", "value": 9}, "value": 4},
        "labelPadding": 5, "labelFontSize": 22, "titleFontSize": 22, "titlePadding": 7}},
    "y": {"field": "v", "type": "quantitative", "title": "G', G'' (Pa)",
      "scale": {"type": "log", "domain": [0.0000304, 100000], "nice": false},
      "axis": {"values": [0.00004,0.00005,0.00006,0.00007,0.00008,0.00009,0.0001,0.0002,0.0003,0.0004,0.0005,0.0006,0.0007,0.0008,0.0009,0.001,0.002,0.003,0.004,0.005,0.006,0.007,0.008,0.009,0.01,0.02,0.03,0.04,0.05,0.06,0.07,0.08,0.09,0.1,0.2,0.3,0.4,0.5,0.6,0.7,0.8,0.9,1,2,3,4,5,6,7,8,9,10,20,30,40,50,60,70,80,90,100,200,300,400,500,600,700,800,900,1000,2000,3000,4000,5000,6000,7000,8000,9000,10000,20000,30000,40000,50000,60000,70000,80000,90000,100000],
        "labelExpr": "datum.value == 100000 ? '100000' : datum.value == 1000 ? '1000' : datum.value == 10 ? '10' : datum.value == 0.1 ? '0.1' : datum.value == 0.001 ? '0.001' : ''",
        "tickSize": {"condition": {"test": "abs(log(datum.value)/LN10 - round(log(datum.value)/LN10)) < 0.001", "value": 9}, "value": 4},
        "labelPadding": 4, "labelFontSize": 22, "titleFontSize": 22, "titlePadding": -27}}
  },
  "layer": [
    {"data": {"name": "B"}, "transform": [{"filter": "datum.g == 'o'"}],
     "mark": {"type": "point", "filled": false, "opacity": 1, "strokeWidth": 1.1},
     "encoding": {
       "color": {"field": "c", "type": "nominal", "scale": {"domain": ["20","30","40","50","60"], "range": ["#000000","#ff0000","#0000ff","#008080","#ff00ff"]}, "legend": null},
       "shape": {"field": "c", "type": "nominal", "scale": {"domain": ["20","30","40","50","60"], "range": ["square","circle","triangle-up","triangle-down","triangle-left"]}, "legend": null},
       "size": {"field": "c", "type": "nominal", "scale": {"type": "ordinal", "domain": ["20","30","40","50","60"], "range": [64, 80, 115, 115, 115]}, "legend": null}
     }},
    {"data": {"name": "B"}, "transform": [{"filter": "datum.g == 's'"}],
     "mark": {"type": "point", "filled": true, "opacity": 1},
     "encoding": {
       "color": {"field": "c", "type": "nominal", "scale": {"domain": ["20","30","40","50","60"], "range": ["#000000","#ff0000","#0000ff","#008080","#ff00ff"]}, "legend": null},
       "shape": {"field": "c", "type": "nominal", "scale": {"domain": ["20","30","40","50","60"], "range": ["square","circle","triangle-up","triangle-down","triangle-left"]}, "legend": null},
       "size": {"field": "c", "type": "nominal", "scale": {"type": "ordinal", "domain": ["20","30","40","50","60"], "range": [64, 80, 115, 115, 115]}, "legend": null}
     }},
    {"data": {"name": "lab"},
     "mark": {"type": "text", "align": "left", "baseline": "middle", "font": "Liberation Serif", "fontSize": 22, "color": "#000"},
     "encoding": {"text": {"field": "t", "type": "nominal"}}}
  ]
}
]
}
